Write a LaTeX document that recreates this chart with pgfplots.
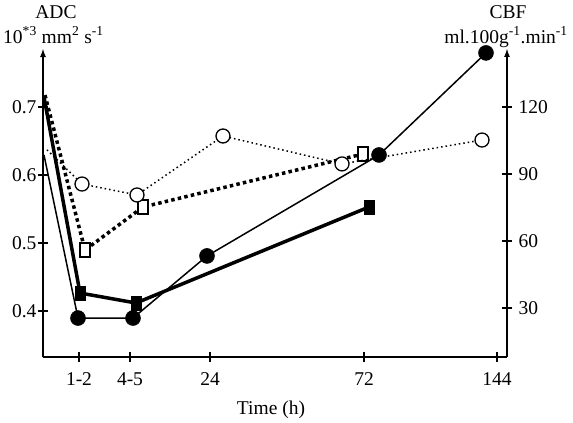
\documentclass[border=0pt]{standalone}
\usepackage{fontspec}
\setmainfont{Liberation Serif}
\usepackage{pgfplots}
\pgfplotsset{compat=1.18}
\usetikzlibrary{arrows.meta}
\newcommand\fs{\fontsize{19.5}{22}\selectfont}
\begin{document}
\begin{tikzpicture}[x=1pt,y=1pt]
\useasboundingbox (-43,-66) rectangle (530,357);
\pgfplotsset{
 base/.style={scale only axis, width=464pt, height=309pt, xmin=43, xmax=507,
   at={(0,0)}, anchor=south west,
   tick label style={font=\fs}, /pgf/number format/assume math mode=true,
   major tick length=10pt, tick align=outside,
   axis line style={line width=2.2pt}, tick style={line width=2pt, black},
   clip=false}
}
\begin{axis}[base, axis x line=bottom, axis y line=left,
  x axis line style={-}, y axis line style={-{Latex[length=9pt,width=6pt]}},
  ymin=0.3324, ymax=0.7868, ytick={0.4,0.5,0.6,0.7}, yticklabels={0.4,0.5,0.6,0.7},
  xticklabel style={yshift=-7pt}, yticklabel style={xshift=2pt},
  xtick={79,130,210,364,497}, xticklabels={1-2,4-5,24,72,144}]
% thick solid, filled squares
\addplot[black, line width=3.5pt, mark=square*, mark indices={2,3,4}, mark size=7pt,
  mark options={xscale=0.72, line width=0.5pt}] coordinates {
 (44,0.7147) (80,0.4265) (136,0.4118) (369,0.553)};
% thick dotted, open squares
\addplot[black, line width=3.5pt, dash pattern=on 3.5pt off 3.2pt, mark=square*, mark indices={2,3,4}, mark size=7pt,
  mark options={solid, xscale=0.72, fill=white, line width=1.3pt}] coordinates {
 (45,0.7176) (85,0.4897) (143,0.553) (363,0.6309)};
\end{axis}
\begin{axis}[base, axis x line=none, axis y line=right,
  y axis line style={-{Latex[length=9pt,width=6pt]}},
  yticklabel style={xshift=3pt},
  ymin=8.06, ymax=146.4, ytick={30,60,90,120}]
% thin solid, filled circles
\addplot[black, line width=1.5pt, mark=*, mark indices={2,3,4,5,6}, mark size=7.5pt,
  mark options={line width=0.5pt}] coordinates {
 (44,98.5) (78,25.5) (133,25.5) (207,53.3) (379,98.5) (486,144.2)};
% thin dotted, open circles
\addplot[black, line width=1.5pt, dash pattern=on 1.5pt off 3pt, mark=*, mark indices={2,3,4,5,6}, mark size=7pt,
  mark options={solid, fill=white, line width=1.3pt}] coordinates {
 (47,100.8) (82,85.5) (137,80.6) (223,107.0) (342,94.5) (482,105.2)};
\end{axis}
\node[font=\fs, inner sep=0] at (13,345) {ADC};
\node[font=\fs, inner sep=0, anchor=west] at (-40,322) {10\textsuperscript{*3} mm\textsuperscript{2} s\textsuperscript{-1}};
\node[font=\fs, inner sep=0] at (465,345) {CBF};
\node[font=\fs, inner sep=0, anchor=east] at (525,320) {ml.100g\textsuperscript{-1}.min\textsuperscript{-1}};
\node[font=\fs, inner sep=0] at (228,-53) {Time (h)};
\end{tikzpicture}
\end{document}
